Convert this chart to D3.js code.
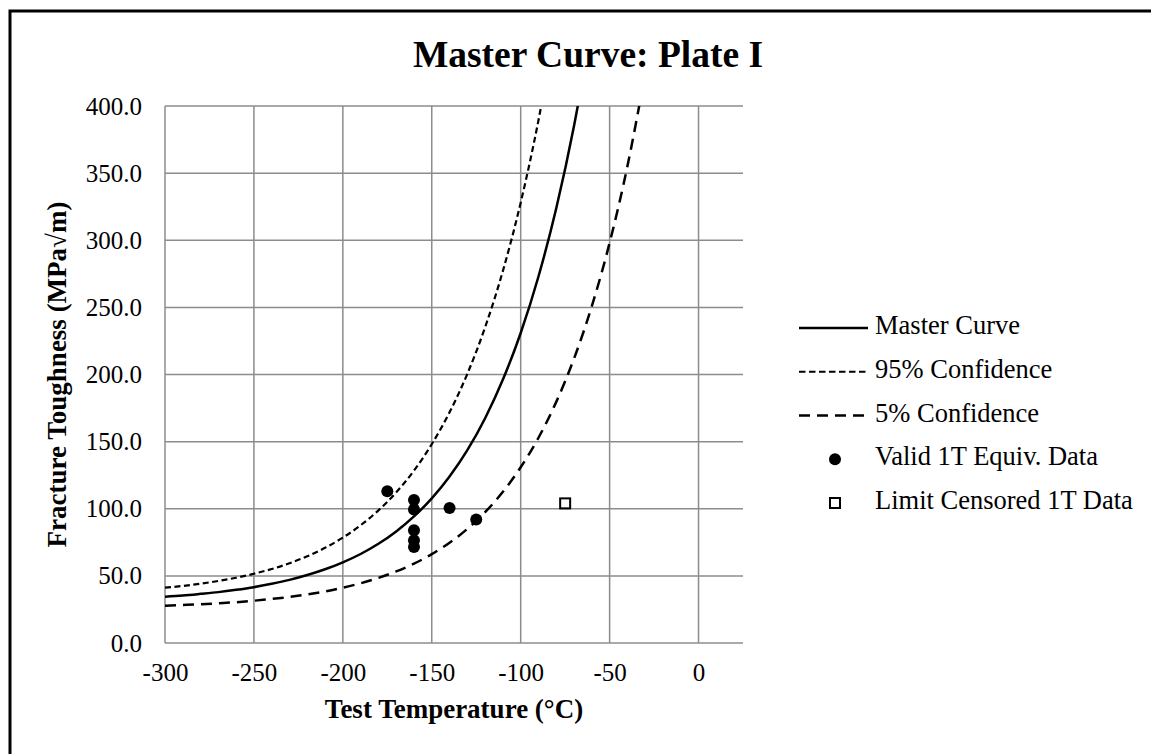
<!DOCTYPE html>
<html><head><meta charset="utf-8">
<script src="https://cdn.jsdelivr.net/npm/d3@7"></script>
<style>body{margin:0;background:#fff}svg{display:block}text{font-family:"Liberation Serif","Times New Roman",serif}</style>
</head><body><svg id="c" width="1151" height="754"></svg>
<script>
const temps = [-300,-290,-280,-270,-260,-250,-240,-230,-220,-210,-200,-190,-180,-170,-160,-150,-140,-130,-120,-110,-100,-90,-80,-70,-60,-50,-40,-30];
const masterCurve = [34.5,35.4,36.6,37.9,39.6,41.6,44.1,47.0,50.6,54.9,60.1,66.3,73.9,83.1,94.3,107.7,124.0,143.6,167.4,196.2,230.9,273.0,323.8,385.3,459.7];
const conf95 = [41.2,42.5,44.2,46.2,48.6,51.6,55.1,59.4,64.6,70.9,78.5,87.7,98.8,112.2,128.4,148.1,171.8,200.5,235.2,277.2,328.0,389.4,463.6];
const conf5 = [27.8,28.3,28.85,29.6,30.4,31.5,32.8,34.3,36.2,38.4,41.2,44.5,48.5,53.3,59.1,66.2,74.7,85.0,97.5,112.6,130.9,152.9,179.6,211.9,250.9,298.1,355.1,424.2];
const validT = [-175,-160,-160,-140,-125,-160,-160,-160];
const validK = [113,106.5,99.5,100.5,92,84,76.5,71.5];
const censT = [-75];
const censK = [104];
const xTicks = [-300,-250,-200,-150,-100,-50,0];
const yTicks = [0,50,100,150,200,250,300,350,400];
const legendLabels = ["Master Curve","95% Confidence","5% Confidence","Valid 1T Equiv. Data","Limit Censored 1T Data"];

const svg = d3.select("#c");
const L=165,R=743,T=106,B=643;
const x = d3.scaleLinear().domain([-300,25]).range([L,R]);
const y = d3.scaleLinear().domain([0,400]).range([B,T]);

// outer frame
svg.append("rect").attr("x",10).attr("y",11).attr("width",1160).attr("height",760)
  .attr("fill","none").attr("stroke","#000").attr("stroke-width",3);

svg.append("defs").append("clipPath").attr("id","pc").append("rect")
  .attr("x",L).attr("y",T).attr("width",R-L).attr("height",B-T);

// grid
const grid = svg.append("g");
grid.selectAll(".gx").data(xTicks).join("line")
  .attr("x1",d=>x(d)).attr("x2",d=>x(d)).attr("y1",T).attr("y2",B)
  .attr("stroke","#8c8c8c").attr("stroke-width",1.5);
grid.selectAll(".gy").data(yTicks).join("line")
  .attr("x1",L).attr("x2",R).attr("y1",d=>y(d)).attr("y2",d=>y(d))
  .attr("stroke","#8c8c8c").attr("stroke-width",1.5);

// axes tick labels via d3 axes
const xAxis = svg.append("g").attr("transform",`translate(0,${B})`)
  .call(d3.axisBottom(x).tickValues(xTicks).tickSize(0).tickPadding(20).tickFormat(d=>String(d)));
xAxis.select(".domain").remove();
xAxis.selectAll("text").attr("font-size",25).attr("fill","#000").attr("font-family","Liberation Serif");
const yAxis = svg.append("g").attr("transform",`translate(${L},0)`)
  .call(d3.axisLeft(y).tickValues(yTicks).tickSize(0).tickPadding(23).tickFormat(d3.format(".1f")));
yAxis.select(".domain").remove();
yAxis.selectAll("text").attr("font-size",25).attr("fill","#000").attr("font-family","Liberation Serif");

// curves
const plot = svg.append("g").attr("clip-path","url(#pc)");
const line = d3.line().x(d=>x(d[0])).y(d=>y(d[1])).curve(d3.curveMonotoneX);
const mk = arr => arr.map((v,i)=>[temps[i],v]);
plot.append("path").attr("d",line(mk(conf95))).attr("fill","none").attr("stroke","#000").attr("stroke-width",2.2).attr("stroke-dasharray","6,3.5");
plot.append("path").attr("d",line(mk(conf5))).attr("fill","none").attr("stroke","#000").attr("stroke-width",2.5).attr("stroke-dasharray","11,7");
plot.append("path").attr("d",line(mk(masterCurve))).attr("fill","none").attr("stroke","#000").attr("stroke-width",2.5);

// points
plot.selectAll(".v").data(validT.map((t,i)=>[t,validK[i]])).join("circle")
  .attr("cx",d=>x(d[0])).attr("cy",d=>y(d[1])).attr("r",6).attr("fill","#000");
plot.selectAll(".cz").data(censT.map((t,i)=>[t,censK[i]])).join("rect")
  .attr("x",d=>x(d[0])-5).attr("y",d=>y(d[1])-5).attr("width",10).attr("height",10)
  .attr("fill","#fff").attr("stroke","#000").attr("stroke-width",2);

// titles
svg.append("text").attr("x",588).attr("y",58).attr("text-anchor","middle").attr("dominant-baseline","middle")
  .attr("font-size",37.5).attr("font-weight","bold").text("Master Curve: Plate I");
svg.append("text").attr("x",(L+R)/2).attr("y",712).attr("text-anchor","middle").attr("dominant-baseline","middle")
  .attr("font-size",27).attr("font-weight","bold").text("Test Temperature (°C)");
svg.append("text").attr("transform",`translate(60,${(T+B)/2}) rotate(-90)`).attr("text-anchor","middle").attr("dominant-baseline","middle")
  .attr("font-size",27).attr("font-weight","bold").text("Fracture Toughness (MPa√m)");

// legend
const lg = svg.append("g");
const rowsY = [328,371.75,415.5,459.25,503];
const lx1=799, lx2=868, tx=875;
lg.append("line").attr("x1",lx1).attr("x2",lx2).attr("y1",rowsY[0]).attr("y2",rowsY[0]).attr("stroke","#000").attr("stroke-width",2.5);
lg.append("line").attr("x1",lx1).attr("x2",lx2).attr("y1",rowsY[1]).attr("y2",rowsY[1]).attr("stroke","#000").attr("stroke-width",2.2).attr("stroke-dasharray","6.5,3.5");
lg.append("line").attr("x1",lx1).attr("x2",lx2).attr("y1",rowsY[2]).attr("y2",rowsY[2]).attr("stroke","#000").attr("stroke-width",2.5).attr("stroke-dasharray","11,7");
lg.append("circle").attr("cx",835).attr("cy",rowsY[3]).attr("r",6).attr("fill","#000");
lg.append("rect").attr("x",830).attr("y",rowsY[4]-5).attr("width",10).attr("height",10).attr("fill","#fff").attr("stroke","#000").attr("stroke-width",2);
lg.selectAll(".lt").data(legendLabels).join("text").attr("x",tx).attr("y",(d,i)=>rowsY[i]).attr("dominant-baseline","middle")
  .attr("font-size",26.5).text(d=>d);
</script></body></html>
